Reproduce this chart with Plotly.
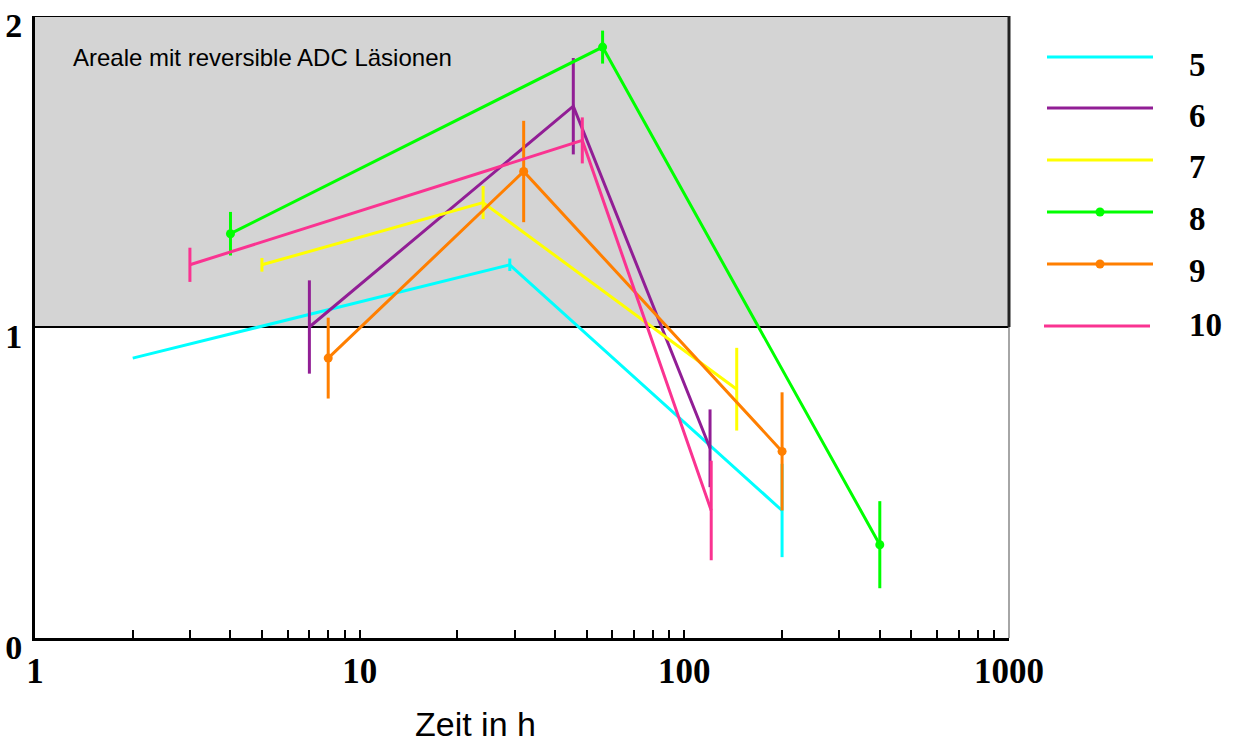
import plotly.graph_objects as go

# ---- data ----
series_names = ["5", "6", "7", "8", "9", "10"]
series_colors = ["#00ffff", "#911e95", "#ffff00", "#00ff00", "#ff7f00", "#fa3391"]
series_markers = [False, False, False, True, True, False]

x5 = [2, 29, 200]
y5 = [0.9, 1.2, 0.41]
e5 = [0.0, 0.02, 0.15]

x6 = [7, 45.5, 120]
y6 = [1.0, 1.71, 0.61]
e6 = [0.15, 0.155, 0.125]

x7 = [5, 24, 145]
y7 = [1.2, 1.4, 0.8]
e7 = [0.022, 0.053, 0.133]

x8 = [4, 56, 400]
y8 = [1.3, 1.9, 0.3]
e8 = [0.07, 0.053, 0.14]

x9 = [8, 32, 200]
y9 = [0.9, 1.5, 0.6]
e9 = [0.13, 0.163, 0.19]

x10 = [3, 48.5, 121]
y10 = [1.2, 1.6, 0.41]
e10 = [0.055, 0.074, 0.16]

xs = [x5, x6, x7, x8, x9, x10]
ys = [y5, y6, y7, y8, y9, y10]
es = [e5, e6, e7, e8, e9, e10]

x_tick_values = [m * 10 ** k for k in range(3) for m in range(1, 10)] + [1000]
x_tick_labels = ["1", "10", "100", "1000"]
y_tick_values = [0, 1, 2]
y_tick_labels = ["0", "1", "2"]

region_label = "Areale mit reversible ADC Läsionen"
x_title = "Zeit in h"

# ---- figure ----
fig = go.Figure()

for name, color, mk, x, y, e in zip(series_names, series_colors, series_markers, xs, ys, es):
    fig.add_trace(go.Scatter(
        x=x, y=y, name=name,
        mode="lines+markers" if mk else "lines",
        line=dict(color=color, width=3),
        marker=dict(color=color, size=9),
        error_y=dict(type="data", array=e, visible=True, color=color,
                     thickness=3, width=0),
        showlegend=False,
    ))

ticktext = []
for v in x_tick_values:
    s = str(int(v))
    ticktext.append(s if s in x_tick_labels else "")

fig.update_layout(
    width=1235, height=744,
    margin=dict(l=35, r=226, t=16, b=106, autoexpand=False),
    paper_bgcolor="white", plot_bgcolor="white",
    xaxis=dict(
        type="log", range=[0, 3], automargin=False,
        tickvals=x_tick_values, ticktext=ticktext,
        ticks="inside", ticklen=8, tickwidth=2, tickcolor="black",
        showgrid=False, zeroline=False,
        showline=True, linecolor="black", linewidth=3,
        tickfont=dict(family="Liberation Serif", size=35, color="black", weight="bold"),
    ),
    yaxis=dict(
        range=[0, 2], automargin=False,
        tickvals=y_tick_values, ticktext=y_tick_labels,
        ticks="", showgrid=False, zeroline=False,
        showline=True, linecolor="black", linewidth=3,
        ticklabelshift=9, ticklabelstandoff=3,
        tickfont=dict(family="Liberation Serif", size=34, color="black", weight="bold"),
    ),
)

# shaded region y in [1, 2]
fig.add_shape(type="rect", xref="paper", yref="y", x0=0, x1=1, y0=1, y1=2,
              fillcolor="#d4d4d4", line=dict(width=0), layer="below")
fig.add_shape(type="line", xref="paper", yref="y", x0=0, x1=1, y0=2, y1=2,
              line=dict(color="black", width=2), layer="below")
fig.add_shape(type="line", xref="paper", yref="y", x0=0, x1=1, y0=1, y1=1,
              line=dict(color="black", width=2), layer="below")
fig.add_shape(type="line", xref="paper", yref="y", x0=1, x1=1, y0=1, y1=2,
              line=dict(color="#222222", width=3), layer="below")
fig.add_shape(type="line", xref="paper", yref="y", x0=1, x1=1, y0=0, y1=1,
              line=dict(color="#888888", width=1.5), layer="below")

fig.add_annotation(text=region_label, xref="paper", yref="paper",
                   x=0.037, y=0.934, xanchor="left", yanchor="middle",
                   showarrow=False,
                   font=dict(family="Liberation Sans", size=24, color="black"))

fig.add_annotation(text=x_title, xref="paper", yref="paper",
                   x=0.452, y=-0.138, xanchor="center", yanchor="middle",
                   showarrow=False,
                   font=dict(family="Liberation Sans", size=34, color="black"))

# manual legend (positions in pixels converted to paper)
PL, PW, PB, PH = 35, 974, 638, 622
def px_x(p):
    return (p - PL) / PW
def px_y(p):
    return (PB - p) / PH

leg_line_y = [57, 108, 160, 212, 264, 326]
leg_label_y = [65, 116, 167, 219, 271, 325]
for i, (name, color, mk) in enumerate(zip(series_names, series_colors, series_markers)):
    off = -3 if i == 5 else 0
    x0, x1 = px_x(1047 + off), px_x(1153 + off)
    yl = px_y(leg_line_y[i])
    fig.add_shape(type="line", xref="paper", yref="paper",
                  x0=x0, x1=x1, y0=yl, y1=yl, line=dict(color=color, width=3))
    if mk:
        fig.add_shape(type="circle", xref="paper", yref="paper",
                      xsizemode="pixel", ysizemode="pixel",
                      xanchor=(x0 + x1) / 2, yanchor=yl,
                      x0=-4.5, x1=4.5, y0=-4.5, y1=4.5,
                      fillcolor=color, line=dict(width=0))
    fig.add_annotation(text=name, xref="paper", yref="paper",
                       x=px_x(1187), y=px_y(leg_label_y[i]),
                       xanchor="left", yanchor="middle", showarrow=False,
                       font=dict(family="Liberation Serif", size=33, color="black", weight="bold"))

fig.write_html("out.html")
